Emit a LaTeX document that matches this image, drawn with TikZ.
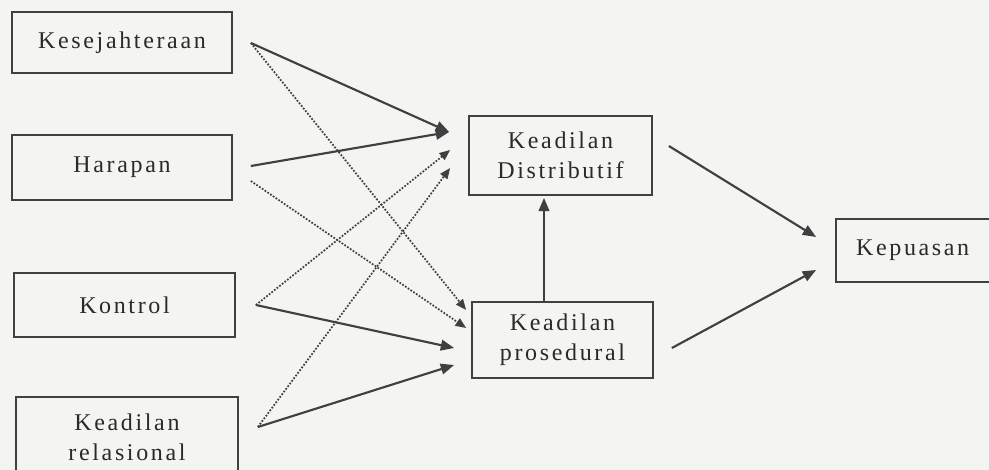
\documentclass[tikz,border=0pt]{standalone}
\usepackage{fontspec}
\setmainfont{Liberation Serif}[LetterSpace=11]
\usetikzlibrary{arrows.meta,calc}
\definecolor{bg}{HTML}{F4F4F2}
\definecolor{ink}{HTML}{404040}
\definecolor{txt}{HTML}{2A2A2A}
\begin{document}
\begin{tikzpicture}[x=0.75pt,y=-0.75pt,
  box/.style={draw=ink, line width=1.3pt, fill=bg, inner sep=0pt, align=center,
    text=txt, font=\fontsize{18pt}{22.5pt}\selectfont},
  solidarr/.style={draw=ink, line width=1.6pt, -{Triangle[length=10pt,width=8pt]}},
  dotarr/.style={draw=ink, line width=1.3pt, dash pattern=on 1.3pt off 1.2pt,
    -{Triangle[length=8pt,width=6.5pt]}}]
\fill[bg] (0,0) rectangle (989,470);
\clip (0,0) rectangle (989,470);
\useasboundingbox (0,0) rectangle (989,470);
% boxes
\node[box, minimum width=165pt, minimum height=45.75pt] (kes) at (122,42.5) {Kesejahteraan};
\node[box, minimum width=165pt, minimum height=48.75pt] (har) at (122,167.5) {Harapan};
\node[box, minimum width=165.75pt, minimum height=48pt] (kon) at (124.5,305) {Kontrol};
\node[box, minimum width=166.5pt, minimum height=60pt] (rel) at (127,437) {Keadilan\\relasional};
\node[box, minimum width=137.25pt, minimum height=59.25pt] (dis) at (560.5,155.5) {Keadilan\\Distributif};
\node[box, minimum width=135.75pt, minimum height=57pt] (pro) at (562.5,340) {Keadilan\\prosedural};
\node[box, minimum width=123pt, minimum height=47.25pt, text width=110pt] (kep) at (918,250.5) {\hspace*{-8pt}Kepuasan};
% connector end points
\coordinate (kesR) at ($(kes.east)+(18,0.5)$);
\coordinate (harR1) at ($(har.east)+(18,-1.5)$);
\coordinate (harR2) at ($(har.east)+(18,13.5)$);
\coordinate (konR) at ($(kon.east)+(20,0)$);
\coordinate (relR) at ($(rel.east)+(19,-10)$);
\coordinate (disL1) at ($(dis.west)+(-19,-23.5)$);
\coordinate (disL2) at ($(dis.west)+(-18,-5.5)$);
\coordinate (disL3) at ($(dis.west)+(-18,12.5)$);
\coordinate (proL1) at ($(pro.west)+(-5,-30)$);
\coordinate (proL2) at ($(pro.west)+(-5,-12)$);
\coordinate (proL3) at ($(pro.west)+(-17,8)$);
\coordinate (proL4) at ($(pro.west)+(-17,25)$);
\coordinate (disR) at ($(dis.east)+(16,-9.5)$);
\coordinate (proR) at ($(pro.east)+(18,8)$);
\coordinate (kepL1) at ($(kep.west)+(-19,-13.5)$);
\coordinate (kepL2) at ($(kep.west)+(-19,19.5)$);
\coordinate (proT) at ($(pro.north)+(-18.5,0)$);
\coordinate (disB) at ($(dis.south)+(-16.5,2)$);
% connectors
\draw[solidarr] (kesR) -- (disL1);
\draw[dotarr] (kesR) -- (proL1);
\draw[solidarr] (harR1) -- (disL1);
\draw[dotarr] (harR2) -- (proL2);
\draw[dotarr] (konR) -- (disL2);
\draw[solidarr] (konR) -- (proL3);
\draw[dotarr] (relR) -- (disL3);
\draw[solidarr] (relR) -- (proL4);
\draw[solidarr] (proT) -- (disB);
\draw[solidarr] (disR) -- (kepL1);
\draw[solidarr] (proR) -- (kepL2);
\end{tikzpicture}
\end{document}
